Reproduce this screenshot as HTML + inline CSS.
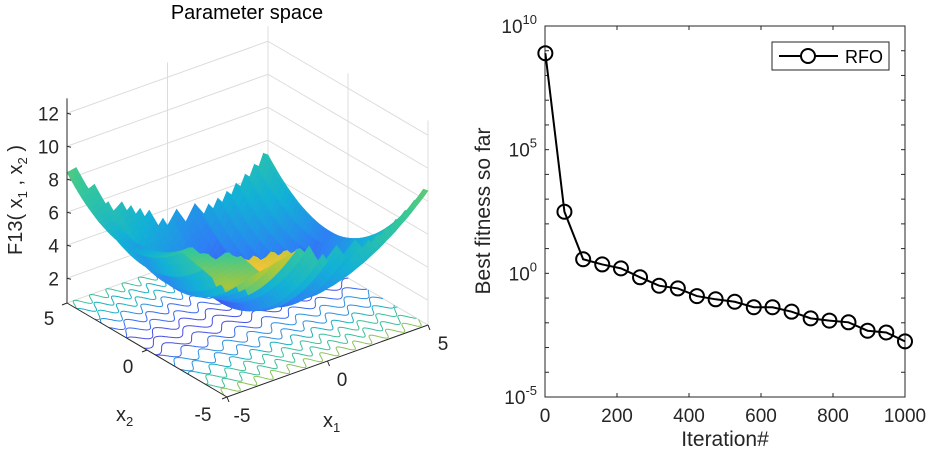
<!DOCTYPE html>
<html><head><meta charset="utf-8"><style>
body{margin:0;background:#fff;}
svg{display:block;font-family:"Liberation Sans",Arial,sans-serif;}
</style></head><body>
<svg id="fig" width="928" height="451" viewBox="0 0 928 451" xmlns="http://www.w3.org/2000/svg">
<g id="left"></g>
<g id="right"></g>
</svg>
<script>
// ---- Convergence data ----
const iterations = [1,54,106,159,211,264,317,369,422,474,527,580,632,685,738,790,843,896,948,1000];
const logFitness = [8.9,2.49,0.57,0.36,0.2,-0.16,-0.5,-0.61,-0.92,-1.05,-1.15,-1.37,-1.37,-1.55,-1.82,-1.91,-1.98,-2.32,-2.39,-2.75];
const xTicks = [0,200,400,600,800,1000];
const yTickExps = [10,5,0,-5];

const NS="http://www.w3.org/2000/svg";
function mk(tag,attrs,parent,text){const e=document.createElementNS(NS,tag);for(const k in attrs)e.setAttribute(k,attrs[k]);if(text!==undefined)e.textContent=text;parent.appendChild(e);return e;}

// ---------- Right chart ----------
const R=document.getElementById('right');
const px0=545,px1=905,py0=26,py1=397;
const xs=v=>px0+(v-0)/1000*(px1-px0);
const ys=e=>py1-(e+5)/15*(py1-py0);
let el=mk('rect',{x:px0,y:py0,width:px1-px0,height:py1-py0,fill:'#fff',stroke:'#262626','stroke-width':1},R);


for(let e=-5;e<=10;e++){
  mk('line',{x1:px0,x2:px0+4,y1:ys(e),y2:ys(e),stroke:'#262626'},R);
  mk('line',{x1:px1,x2:px1-4,y1:ys(e),y2:ys(e),stroke:'#262626'},R);
}
yTickExps.forEach(e=>{
  const t=mk('text',{x:px0-8,y:ys(e)+7,'text-anchor':'end','font-size':19,fill:'#262626'},R);
  
  
  mk('tspan',{},t,'10');
  mk('tspan',{dy:-9,'font-size':13},t,String(e));
});
xTicks.forEach(v=>{
  mk('line',{x1:xs(v),x2:xs(v),y1:py1,y2:py1-4,stroke:'#262626'},R);
  mk('line',{x1:xs(v),x2:xs(v),y1:py0,y2:py0+4,stroke:'#262626'},R);
  const t=mk('text',{x:xs(v),y:py1+25,'text-anchor':'middle','font-size':19,fill:'#262626'},R,String(v));
  
  
});
el=mk('text',{x:725,y:446,'text-anchor':'middle','font-size':21,fill:'#262626'},R,'Iteration#');


el=mk('text',{x:0,y:0,transform:'translate(490,211) rotate(-90)','text-anchor':'middle','font-size':21,fill:'#262626'},R,'Best fitness so far');


const pts=iterations.map((v,i)=>xs(v)+','+ys(logFitness[i])).join(' ');
el=mk('polyline',{points:pts,fill:'none',stroke:'#000','stroke-width':2},R);


iterations.forEach((v,i)=>{
  const c=mk('circle',{cx:xs(v),cy:ys(logFitness[i]),r:7,fill:'none',stroke:'#000','stroke-width':2},R);
  
  
});
const lg=mk('g',{},R);


mk('rect',{x:772,y:42,width:117,height:28,fill:'#fff',stroke:'#262626'},lg);
mk('line',{x1:779,x2:838,y1:56,y2:56,stroke:'#000','stroke-width':2},lg);
mk('circle',{cx:808,cy:56,r:7,fill:'#fff',stroke:'#000','stroke-width':2},lg);
el=mk('text',{x:845,y:63,'font-size':18,fill:'#000'},lg,'RFO');



// ---------- Left 3D plot ----------
const L=document.getElementById('left');
const Z0=0.5,ZS=16.5;
function P(x1,x2,z){const u=(x1+5)/10,v=(x2+5)/10;return [227+u*201-v*160,397-u*72-v*94-(z-Z0)*ZS];}
const grid='#dcdcdc';
function line3(a,b,col,w){const p=P(...a),q=P(...b);return mk('line',{x1:p[0],y1:p[1],x2:q[0],y2:q[1],stroke:col,'stroke-width':w||1},L);}
const zTop=12.9;
[2,4,6,8,10,12].forEach(z=>{line3([-5,5,z],[5,5,z],grid);line3([5,5,z],[5,-5,z],grid);});
[-5,0,5].forEach(a=>{line3([a,5,Z0],[a,5,zTop],grid);line3([5,a,Z0],[5,a,zTop],grid);});
line3([-5,5,Z0],[5,5,Z0],grid);line3([5,5,Z0],[5,-5,Z0],grid);
// contours on floor
const cg=mk('g',{fill:'none','stroke-width':1},L);


const ccols=['#4a4ee0','#3a68ee','#2a90e0','#1bb0c0','#3cbf9a','#8ac35a'];
for(let k=0;k<16;k++){
  const x2=4.7-k*0.62; let d=''; const col=ccols[Math.min(5,Math.floor(Math.abs(x2-0.5)*1.1))];
  for(let s=0;s<=300;s++){const x1=-5+s*10/300;const w=x2+0.3*Math.sin(x1*(4+Math.abs(x2)*0.8));const p=P(x1,Math.max(-5,Math.min(5,w)),Z0);d+=(s?'L':'M')+p[0].toFixed(1)+' '+p[1].toFixed(1);}
  mk('path',{d:d,stroke:col},cg);
}
// surface
const parula=[[62,38,168],[71,71,235],[46,128,245],[18,177,214],[55,200,151],[171,199,57],[254,195,56],[249,251,21]];
function cmap(t){t=Math.max(0,Math.min(1,t))*(parula.length-1);const i=Math.min(parula.length-2,Math.floor(t)),f=t-i;const a=parula[i],b=parula[i+1];return 'rgb('+a.map((c,j)=>Math.round(c+(b[j]-c)*f)).join(',')+')';}
function F(x1,x2){
  const saw=((x1*2.2)%1+1)%1;
  let z=0.4+0.15*(x1-1.1)*(x1-1.1)+0.16*(x2-1.1)*(x2-1.1)+0.9*saw;
  const d=((x1+5)+(x2+5))/20;
  return Math.min(z,7+5*d);
}
const sg=mk('g',{},L);


const N=44,quads=[];
for(let i=0;i<N;i++)for(let j=0;j<N;j++){
  const a1=-5+10*i/N,a2=-5+10*(i+1)/N,b1=-5+10*j/N,b2=-5+10*(j+1)/N;
  const u=(a1+a2)/2,v=(b1+b2)/2;
  quads.push({depth:72*(u+5)+94*(v+5),c:[[a1,b1],[a2,b1],[a2,b2],[a1,b2]]});
}
quads.sort((p,q)=>q.depth-p.depth);
quads.forEach(q=>{
  const pts=q.c.map(([x1,x2])=>{const z=F(x1,x2);const p=P(x1,x2,z);return p[0].toFixed(1)+','+p[1].toFixed(1);}).join(' ');
  const cx=(q.c[0][0]+q.c[1][0])/2,cy=(q.c[0][1]+q.c[2][1])/2;
  const t=0.12+0.045*Math.abs(cx-1)+0.055*Math.abs(cy-1)+((cx>-3.5&&cx<-1.5&&cy<-2)?0.2:0);
  const col=cmap(t);
  mk('polygon',{points:pts,fill:col,stroke:col,'stroke-width':0.6},sg);
});
// axes
line3([-5,5,Z0],[-5,5,zTop],'#262626');
line3([-5,5,Z0],[-5,-5,Z0],'#262626');
line3([-5,-5,Z0],[5,-5,Z0],'#262626');
[2,4,6,8,10,12].forEach(z=>{const p=P(-5,5,z);mk('line',{x1:p[0],y1:p[1],x2:p[0]+4,y2:p[1]+1,stroke:'#262626'},L);
  const t=mk('text',{x:p[0]-8,y:p[1]+7,'text-anchor':'end','font-size':19,fill:'#262626'},L,String(z));
  
  });
[[5,49,325],[0,128,373],[-5,203,421]].forEach(([v,x,y])=>{const t=mk('text',{x:x,y:y,'text-anchor':'middle','font-size':19,fill:'#262626'},L,String(v));
  
  });
[[-5,242,422],[0,342,386],[5,443,350]].forEach(([v,x,y])=>{const t=mk('text',{x:x,y:y,'text-anchor':'middle','font-size':19,fill:'#262626'},L,String(v));
  
  });
[-5,0,5].forEach(a=>{const p=P(-5,a,Z0);mk('line',{x1:p[0],y1:p[1],x2:p[0]-5,y2:p[1]+2,stroke:'#262626'},L);const q=P(a,-5,Z0);mk('line',{x1:q[0],y1:q[1],x2:q[0]+2,y2:q[1]+5,stroke:'#262626'},L);});
el=mk('text',{x:116,y:421,'font-size':20,fill:'#262626'},L);el.innerHTML='x<tspan font-size="13" dy="5">2</tspan>';


el=mk('text',{x:323,y:427,'font-size':20,fill:'#262626'},L);el.innerHTML='x<tspan font-size="13" dy="5">1</tspan>';


el=mk('text',{x:0,y:0,transform:'translate(22,200) rotate(-90)','text-anchor':'middle','font-size':20,fill:'#262626'},L);
el.innerHTML='F13(  x<tspan font-size="13" dy="5">1</tspan><tspan dy="-5">   ,   x</tspan><tspan font-size="13" dy="5">2</tspan><tspan dy="-5">  )</tspan>';


el=mk('text',{x:247,y:19,'text-anchor':'middle','font-size':20,fill:'#000'},L,'Parameter space');


</script>
</body></html>
